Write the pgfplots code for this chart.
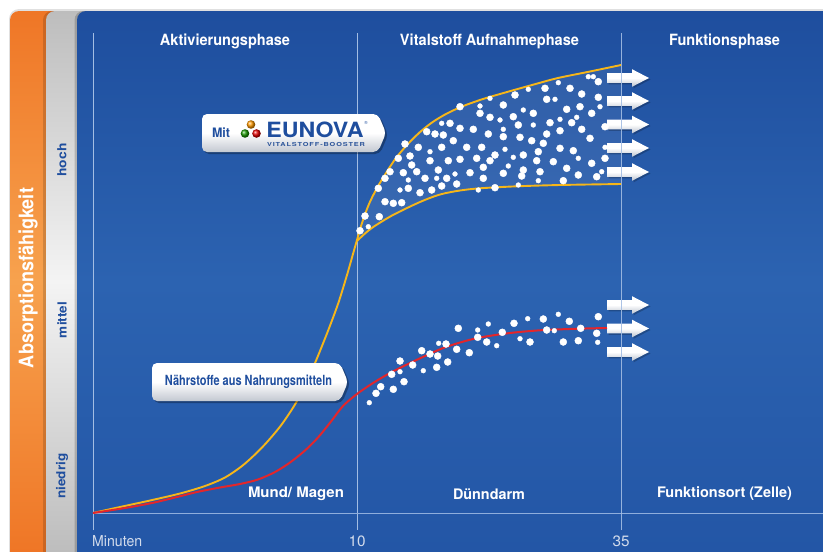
\documentclass[border=0pt]{standalone}
\usepackage{pgfplots}
\pgfplotsset{compat=1.18}
\usepackage{graphicx}
\usepackage{fontspec}
\setmainfont{TeX Gyre Heros}[FakeStretch=0.84]
\newfontfamily\widefont{TeX Gyre Heros}
\newfontfamily\spacedfont{TeX Gyre Heros}[LetterSpace=12]
\definecolor{bgTop}{HTML}{1E4E9E}
\definecolor{bgMid}{HTML}{2C63B1}
\definecolor{bgBot}{HTML}{2356A6}
\definecolor{orA}{HTML}{EF7626}
\definecolor{orB}{HTML}{F7A24E}
\definecolor{grA}{HTML}{BDBDBD}
\definecolor{grB}{HTML}{F4F4F4}
\definecolor{gridc}{HTML}{A3BDE3}
\definecolor{basec}{HTML}{8FAEDC}
\definecolor{ticktext}{HTML}{D3DCEC}
\definecolor{curveY}{HTML}{F6B619}
\definecolor{curveR}{HTML}{E3262B}
\definecolor{txtblue}{HTML}{1F4E9E}
\definecolor{boxgray}{HTML}{C3C8D1}
\definecolor{arrgray}{HTML}{BCC3CF}
\newcommand{\T}[3]{\resizebox{#1}{\height}{\fontsize{#2}{#2}\selectfont #3}}
\newcommand{\blockarrow}[5]{%
  \fill[black,opacity=0.22] (608.5,#1+1.5) -- (633.5,#1+1.5) -- (633.5,#3+1.5) -- (650.5,#5+1.5) -- (633.5,#4+1.5) -- (633.5,#2+1.5) -- (608.5,#2+1.5) -- cycle;
  \shade[top color=white, bottom color=arrgray, middle color=white] (607,#1) -- (632,#1) -- (632,#3) -- (649,#5) -- (632,#4) -- (632,#2) -- (607,#2) -- cycle;}
\begin{document}
\begin{tikzpicture}
\begin{axis}[width=823pt,height=552pt,scale only axis,
  xmin=0,xmax=823,ymin=0,ymax=552,y dir=reverse,hide axis]
% backgrounds
\fill[white] (0,0) rectangle (823,552);
\fill[black,opacity=0.12] (9,552) -- (9,19) arc[start angle=180,end angle=90,radius=10pt] -- (823,9) -- (823,552) -- cycle;
\shade[top color=orA, bottom color=orA, middle color=orB] (10,552) -- (10,20) arc[start angle=180,end angle=90,radius=9pt] -- (70,11) -- (70,552) -- cycle;
\fill[black,opacity=0.15] (43,552) -- (43,20) arc[start angle=180,end angle=90,radius=9pt] -- (90,11) -- (90,552) -- cycle;
\shade[top color=grA, bottom color=grA, middle color=grB] (46,552) -- (46,20) arc[start angle=180,end angle=90,radius=9pt] -- (95,11) -- (95,552) -- cycle;
\fill[black,opacity=0.18] (74.5,552) -- (74.5,20) arc[start angle=180,end angle=90,radius=9pt] -- (823,11) -- (823,552) -- cycle;
\shade[top color=bgTop, bottom color=bgBot, middle color=bgMid] (77,552) -- (77,20) arc[start angle=180,end angle=90,radius=9pt] -- (823,11) -- (823,552) -- cycle;
% side labels
\node[rotate=90,text=white] at (28,278) {\T{180pt}{20}{\bfseries Absorptionsfähigkeit}};
\node[rotate=90,text=txtblue] at (62,160) {\T{33pt}{12.5}{\bfseries hoch}};
\node[rotate=90,text=txtblue] at (62,320) {\T{36pt}{12.5}{\bfseries mittel}};
\node[rotate=90,text=txtblue] at (62,476) {\T{45pt}{12.5}{\bfseries niedrig}};
% grid and baseline
\draw[gridc,line width=0.7pt] (93,33) -- (93,530);
\draw[gridc,line width=0.7pt] (357,33) -- (357,530);
\draw[basec,line width=1pt] (93,513) -- (823,513);
% phase titles
\node[text=white] at (225,41) {\T{130pt}{15.5}{\bfseries Aktivierungsphase}};
\node[text=white] at (489.5,41) {\T{179pt}{15.5}{\bfseries Vitalstoff Aufnahmephase}};
\node[text=white] at (724.5,41) {\T{111pt}{15.5}{\bfseries Funktionsphase}};
\node[text=white] at (296,494) {\T{96pt}{14.5}{\bfseries Mund/ Magen}};
\node[text=white] at (489,494) {\T{72pt}{14.5}{\bfseries Dünndarm}};
\node[text=white] at (724.5,494) {\T{135pt}{14.5}{\bfseries Funktionsort (Zelle)}};
\node[text=ticktext,anchor=west,inner sep=0pt] at (92,541) {\T{50pt}{15}{Minuten}};
\node[text=ticktext] at (357,541) {\T{17pt}{15}{10}};
\node[text=ticktext] at (621,541) {\T{17pt}{15}{35}};
% glow between yellow branches
\addplot[fill=white, fill opacity=0.07, draw=none] coordinates {(357,238) (363,220) (370,200) (375,190) (383,177) (395,158) (407,143) (418,132) (430,123) (445,114) (460,107) (483,99) (507,92) (530,85) (557,77) (590,72) (621,65) (621,184) (560,185) (517,186) (480,188) (460,190) (440,193) (420,202) (393,215) (373,227) (365,233) (357,240)} -- cycle;
% arrows
\blockarrow{73.2}{82.8}{69.2}{86.8}{78}
\blockarrow{96.2}{105.8}{92.2}{109.8}{101}
\blockarrow{119.7}{129.3}{115.7}{133.3}{124.5}
\blockarrow{143.2}{152.8}{139.2}{156.8}{148}
\blockarrow{167.2}{176.8}{163.2}{180.8}{172}
\blockarrow{300.2}{309.8}{296.2}{313.8}{305}
\blockarrow{323.7}{333.3}{319.7}{337.3}{328.5}
\blockarrow{347.2}{356.8}{343.2}{360.8}{352}
\draw[gridc,line width=0.7pt,opacity=0.9] (621,33) -- (621,530);
% curves
\addplot[curveY, line width=1.9pt, smooth] coordinates {(93,513) (120,507) (150,500.5) (180,493.5) (205,486) (225,477.5) (242,466) (256,453.5) (268,441) (282,424) (297,401) (312,370) (326,336) (338,304) (347,275) (353,254) (357,240) (362,223) (369,204) (377,188) (386,173) (396,158) (407,145) (419,133) (432,122.5) (446,114) (462,106.5) (483,99) (507,92) (532,85) (558,78) (590,71.5) (621,65)};
\addplot[curveY, line width=1.9pt, smooth] coordinates {(357,241) (365,233.5) (374,226.5) (393,215) (420,202) (440,194.5) (460,190.5) (480,188.3) (517,186.3) (560,185) (621,184)};
\addplot[curveR, line width=2pt, smooth] coordinates {(93,513) (125,508) (152,503) (175,497.5) (197,492) (220,487.5) (240,484) (258,479.5) (275,472) (290,462.5) (305,450.5) (318,437.5) (331,421.5) (343,406) (357,394) (373,383) (390,373) (407,364.5) (425,356) (442,348.5) (460,342.5) (480,337.5) (510,333) (540,330.3) (575,328.8) (607,328)};
% dots
\addplot[white, only marks, mark=*, mark size=3.5pt, mark options={draw=none, fill=white}] coordinates {(598.3,81.7) (570,88.3) (545,88.3) (581.7,94) (515,95) (503.3,105) (460,106.7) (546.7,99.3) (598.3,97.3) (580,106.7) (566.7,109.3) (533.3,113.3) (480,113.3) (490,117.3) (513.3,116.7) (591.7,113.3) (450,123.3) (518.3,125) (550,122.7) (571.7,122.7) (473.3,129.3) (460,128.3) (426.7,131.7) (435,134) (443.3,135) (488.3,134) (503.3,136.7) (520,137.3) (546.7,134) (560,130.7) (581.7,129.3) (605,126.7) (405,144) (418.3,147.3) (466.7,147.3) (481.7,147.3) (531.7,140.7) (543.3,143.3) (590,138.3) (441.7,147.3) (495,155) (523.3,155) (538.3,151.7) (560,148.3) (573.3,150.7) (398.3,158.3) (410,156) (430,160.7) (448.3,160.7) (460,159.3) (476.7,158.3) (490,160.7) (536.7,160.7) (553.3,161.7) (605,158.3) (390,171.7) (403.3,172.7) (411.7,165) (416.7,171.7) (438.3,170) (470,172.7) (483.3,167.3) (523.3,170) (540,171.7) (566.7,168.3) (591.7,163.3) (385,178.3) (425,178.3) (446.7,178.3) (456.7,184) (483.3,178.3) (503.3,173.3) (521.7,176) (563.3,180.7) (578.3,175) (596.7,176.7) (378.3,188.3) (408.3,188.3) (420,192.7) (431.7,190) (441.7,186) (495,187.7) (385,201.7) (393.3,203.3) (401.7,202.7) (365,216) (379.3,216.7) (360,230.7) (453.3,140.7)
(376,393.3) (380.7,386.7) (393.3,389.3) (404,381.7) (391.7,374.3) (400,361) (412.7,365) (421.7,350.7) (430,354) (437.7,356) (436.7,367.3) (447.7,362) (446,344) (456.7,349.3) (469.3,352.7) (458.3,328.3) (477.7,337.3) (486.7,342) (502.3,332.3) (514,323.3) (530,342) (543.3,319) (546.7,330) (569.3,321.3) (563.3,342) (578.3,340.7) (580.7,328.3) (598.3,316.7) (596.7,333.3)};
\addplot[white, only marks, mark=*, mark size=2.4pt, mark options={draw=none, fill=white}] coordinates {(588.3,76.7) (593.3,76.7) (558.3,82.7) (528.3,89.3) (490,98.3) (480,106) (555,99.3) (600,106.7) (523.3,110) (500,120) (441.7,123.3) (533.3,125) (560,119.3) (576.7,117.3) (503.3,129.3) (430,151.7) (505,149.3) (605,147.3) (513.3,157.3) (578.3,158.3) (455,174) (508.3,166) (601.7,171.7) (408.3,180) (436.7,178.3) (538.3,180.7) (400,190) (478.3,190) (518.3,185) (368.3,226.7)
(369.3,402.7) (400,371.7) (423.3,370.7) (438.7,343.3) (477.7,330) (496.7,345.7) (488.3,324) (520,338.7) (527.7,318.7) (554.3,330.7) (558.3,314.3) (597.7,342.3)};
% EUNOVA callout
\fill[black,opacity=0.3,rounded corners=5pt] (204,116) -- (380,116) -- (388,135) -- (380,154) -- (204,154) -- cycle;
\shade[top color=white, bottom color=boxgray, middle color=white, rounded corners=5pt] (202,114) -- (378,114) -- (386,133) -- (378,152) -- (202,152) -- cycle;
\node[text=txtblue] at (221,133) {\T{18pt}{13}{\bfseries Mit}};
\shade[ball color=orange!80!yellow] (251,124.5) circle[radius=4.3pt];
\shade[ball color=green!55!black!90!yellow] (245,133.5) circle[radius=4.3pt];
\shade[ball color=red!90!black] (256.5,133.5) circle[radius=4.3pt];
\node[text=txtblue] at (315,129.5) {\T{97pt}{21}{\widefont\bfseries EUNOVA}};
\node[text=txtblue,inner sep=0pt] at (366,122.5) {\fontsize{4.5}{5}\selectfont\widefont ®};
\node[text=txtblue!85!gray] at (316,144.5) {\T{98pt}{5.5}{\spacedfont\bfseries VITALSTOFF-BOOSTER}};
% Naehrstoffe callout
\fill[black,opacity=0.3,rounded corners=5pt] (154,365) -- (342,365) -- (350,384) -- (342,403) -- (154,403) -- cycle;
\shade[top color=white, bottom color=boxgray, middle color=white, rounded corners=5pt] (152,363) -- (340,363) -- (348,382) -- (340,401) -- (152,401) -- cycle;
\node[text=txtblue] at (248.5,382) {\T{167pt}{14}{\bfseries Nährstoffe aus Nahrungsmitteln}};
\end{axis}
\end{tikzpicture}
\end{document}
